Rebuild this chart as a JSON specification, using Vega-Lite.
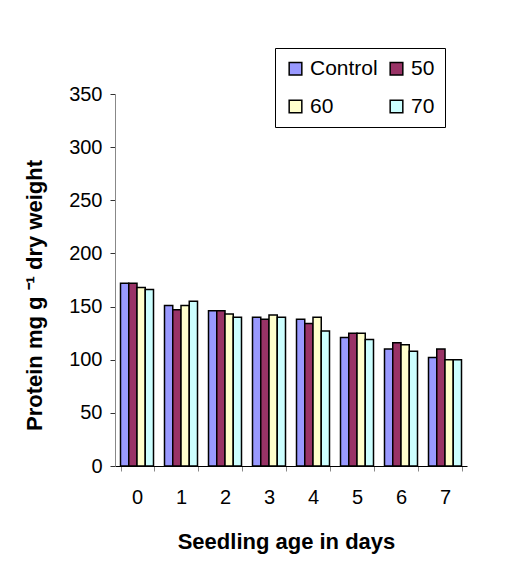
{
  "$schema": "https://vega.github.io/schema/vega-lite/v6.json",
  "width": 352,
  "height": 372,
  "autosize": {"type": "none"},
  "padding": {"left": 115, "top": 94, "right": 40, "bottom": 102},
  "background": "white",
  "data": {
    "values": [
      {"day": "0", "group": "Control", "protein": 172},
      {"day": "0", "group": "50", "protein": 172},
      {"day": "0", "group": "60", "protein": 168},
      {"day": "0", "group": "70", "protein": 166},
      {"day": "1", "group": "Control", "protein": 151},
      {"day": "1", "group": "50", "protein": 147},
      {"day": "1", "group": "60", "protein": 151},
      {"day": "1", "group": "70", "protein": 155},
      {"day": "2", "group": "Control", "protein": 146},
      {"day": "2", "group": "50", "protein": 146},
      {"day": "2", "group": "60", "protein": 143},
      {"day": "2", "group": "70", "protein": 140},
      {"day": "3", "group": "Control", "protein": 140},
      {"day": "3", "group": "50", "protein": 138},
      {"day": "3", "group": "60", "protein": 142},
      {"day": "3", "group": "70", "protein": 140},
      {"day": "4", "group": "Control", "protein": 138},
      {"day": "4", "group": "50", "protein": 134},
      {"day": "4", "group": "60", "protein": 140},
      {"day": "4", "group": "70", "protein": 127},
      {"day": "5", "group": "Control", "protein": 121},
      {"day": "5", "group": "50", "protein": 125},
      {"day": "5", "group": "60", "protein": 125},
      {"day": "5", "group": "70", "protein": 119},
      {"day": "6", "group": "Control", "protein": 110},
      {"day": "6", "group": "50", "protein": 116},
      {"day": "6", "group": "60", "protein": 114},
      {"day": "6", "group": "70", "protein": 108},
      {"day": "7", "group": "Control", "protein": 102},
      {"day": "7", "group": "50", "protein": 110},
      {"day": "7", "group": "60", "protein": 100},
      {"day": "7", "group": "70", "protein": 100}
    ]
  },
  "mark": {"type": "bar", "stroke": "black", "strokeWidth": 1.5},
  "encoding": {
    "x": {
      "field": "day",
      "type": "nominal",
      "scale": {"paddingInner": 0.25, "paddingOuter": 0.125},
      "axis": {
        "title": "Seedling age in days",
        "labelAngle": 0,
        "tickBand": "extent",
        "tickSize": 5,
        "tickColor": "#888888",
        "domainColor": "black",
        "labelPadding": 16,
        "labelFontSize": 20,
        "labelColor": "black",
        "titleFontSize": 22,
        "titleFontWeight": "bold",
        "titleColor": "black",
        "titleX": 171,
        "titleY": 75,
        "titleBaseline": "middle",
        "titleAlign": "center"
      }
    },
    "xOffset": {"field": "group", "type": "nominal", "sort": ["Control", "50", "60", "70"]},
    "y": {
      "field": "protein",
      "type": "quantitative",
      "scale": {"domain": [0, 350]},
      "axis": {
        "title": "Protein mg g ⁻¹ dry weight",
        "values": [0, 50, 100, 150, 200, 250, 300, 350],
        "grid": false,
        "tickSize": 5,
        "tickColor": "#333333",
        "domainColor": "#888888",
        "labelPadding": 8,
        "labelFontSize": 20,
        "labelColor": "black",
        "titleFontSize": 22,
        "titleFontWeight": "bold",
        "titleColor": "black",
        "titleX": -81,
        "titleY": 201,
        "titleBaseline": "middle",
        "titleAlign": "center"
      }
    },
    "color": {
      "field": "group",
      "type": "nominal",
      "sort": ["Control", "50", "60", "70"],
      "scale": {"domain": ["Control", "50", "60", "70"], "range": ["#9999FF", "#993366", "#FFFFCC", "#CCFFFF"]},
      "legend": {
        "title": null,
        "orient": "none",
        "direction": "horizontal",
        "legendX": 160,
        "legendY": -46,
        "columns": 2,
        "columnPadding": 8,
        "rowPadding": 16,
        "padding": 10,
        "strokeColor": "black",
        "fillColor": "white",
        "symbolType": "square",
        "symbolSize": 160,
        "symbolStrokeColor": "black",
        "symbolStrokeWidth": 1.5,
        "symbolOpacity": 1,
        "labelFontSize": 21,
        "labelColor": "black",
        "labelOffset": 4
      }
    }
  },
  "config": {
    "font": "Liberation Sans",
    "view": {"stroke": null},
    "axis": {"labelFont": "Liberation Sans", "titleFont": "Liberation Sans"}
  }
}
